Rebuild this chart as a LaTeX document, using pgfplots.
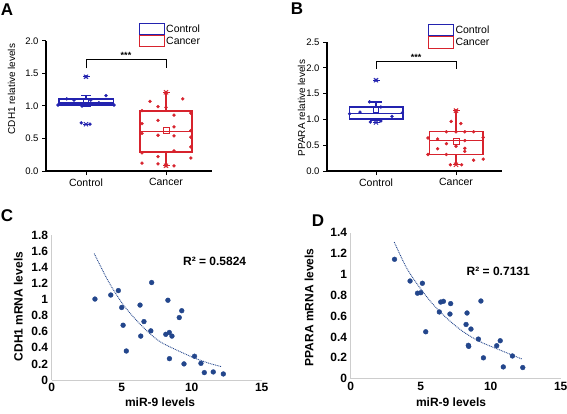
\documentclass[border=0pt]{standalone}
\usepackage{fontspec}
\setmainfont{Liberation Sans}
\usepackage{pgfplots}
\pgfplotsset{compat=1.18}
\usepgfplotslibrary{statistics}
\definecolor{cblue}{RGB}{35,35,175}
\definecolor{cred}{RGB}{215,35,45}
\definecolor{navy}{RGB}{35,70,140}
\definecolor{axgray}{RGB}{205,205,205}
\newcommand{\fTick}{\fontsize{9.5}{11}\selectfont}
\newcommand{\fCat}{\fontsize{10.5}{12}\selectfont}
\newcommand{\fBold}{\fontsize{12}{14}\selectfont\bfseries}
\pgfplotsset{
  boxaxis/.style={
    scale only axis, clip=false,
    axis lines=left, axis line style={-, black, line width=1.1pt},
    tick align=outside, major tick length=4pt,
    tick style={black, line width=1pt},
    /pgf/number format/assume math mode=true,
    xtick={0,1}, xticklabels={Control,Cancer},
    x tick label style={font=\fCat},
    y tick label style={font=\fTick, /pgf/number format/.cd, fixed, fixed zerofill, precision=1},
    ylabel style={font=\fontsize{10}{12}\selectfont},
    legend image code/.code={\draw[#1, line width=1pt] (0pt,-5.6pt) rectangle (25pt,5.6pt);},
    legend style={draw=none, fill=none, inner sep=0pt, row sep=0pt,
      nodes={inner sep=1.2pt}, font=\fCat, cells={anchor=west}},
    boxplot/every box/.style={draw, line width=1.4pt},
    boxplot/every whisker/.style={line width=1.4pt},
    boxplot/every median/.style={line width=1.4pt},
  },
  scataxis/.style={
    scale only axis, clip=false,
    axis lines=left, axis line style={-, draw=axgray, line width=0.8pt},
    major tick length=0pt, tick style={draw=none},
    /pgf/number format/assume math mode=true,
    xmin=0, xmax=15, xtick={0,5,10,15},
    tick label style={font=\fBold},
    y tick label style={/pgf/number format/.cd, fixed, precision=1},
    label style={font=\fBold},
  },
}
\begin{document}
\begin{tikzpicture}
\path[use as bounding box] (0pt,0pt) rectangle (567pt,413pt);
% ---------------- Panel A ----------------
\begin{axis}[boxaxis, at={(46pt,242pt)}, anchor=south west,
  width=166pt, height=130pt,
  xmin=-0.5, xmax=1.575, ymin=0, ymax=2,
  ytick={0,0.5,1,1.5,2},
  ylabel={CDH1 relative levels},
  ylabel style={at={(axis description cs:-0.207,0.63)}, anchor=center},
  legend style={at={(axis description cs:0.559,1.14)}, anchor=north west},
]
\addlegendimage{cblue}\addlegendentry{Control}
\addlegendimage{cred}\addlegendentry{Cancer}
\addplot[cblue, line width=1.4pt, boxplot prepared={draw direction=y, lower whisker=1.0, lower quartile=1.015, median=1.045,
  upper quartile=1.105, upper whisker=1.16, draw position=0, box extend=0.68, whisker extend=0.12}] coordinates {};
\addplot[cred, line width=1.4pt, boxplot prepared={draw direction=y, lower whisker=0.08, lower quartile=0.29, median=0.61,
  upper quartile=0.92, upper whisker=1.21, draw position=1, box extend=0.65, whisker extend=0}] coordinates {};
\addplot[only marks, mark=*, mark size=1.5pt, cblue] coordinates {
(-0.35,1.015)(-0.24,1.11)(-0.15,1.09)(-0.05,1.0)(0.06,1.09)(0.16,1.05)(0.25,1.16)(0.35,1.015)
(-0.06,0.74)(0.05,0.72)(0,1.45)};
\addplot[only marks, mark=*, mark size=1.5pt, cred] coordinates {
(0.70,0.93)(0.70,0.73)(0.70,0.58)(0.70,0.28)(0.70,0.12)
(0.80,1.07)
(0.90,0.99)(0.90,0.78)(0.90,0.55)(0.90,0.22)(0.90,0.11)
(1,0.98)(1,1.21)(1,0.08)
(1.10,0.86)(1.10,0.68)(1.10,0.54)(1.10,0.31)(1.10,0.08)
(1.21,1.11)
(1.31,0.89)(1.31,0.62)(1.31,0.52)(1.31,0.37)(1.31,0.20)};
\addplot[only marks, mark=x, mark size=3pt, mark options={line width=0.9pt, draw=cblue}, cblue] coordinates {(0,1.45)(0,0.72)};
\addplot[only marks, mark=-, mark size=3.5pt, mark options={line width=0.9pt, draw=cblue}, cblue] coordinates {(0,1.45)(0,0.72)};
\addplot[only marks, mark=x, mark size=3pt, mark options={line width=0.9pt, draw=cred}, cred] coordinates {(1,1.21)(1,0.08)};
\addplot[only marks, mark=-, mark size=3.5pt, mark options={line width=0.9pt, draw=cred}, cred] coordinates {(1,1.21)(1,0.08)};
\addplot[only marks, mark=square, mark size=2.4pt, mark options={line width=0.7pt, draw=cblue, fill=white}, cblue] coordinates {(0,1.08)};
\addplot[only marks, mark=square, mark size=3pt, mark options={line width=0.7pt, draw=cred, fill=white}, cred] coordinates {(1,0.62)};
\addplot[black, line width=0.9pt] coordinates {(0,1.58)(0,1.71)(1,1.71)(1,1.58)};
\node[font=\fontsize{9}{10}\selectfont\bfseries, anchor=base] at (axis cs:0.5,1.725) {***};
\end{axis}
% ---------------- Panel B ----------------
\begin{axis}[boxaxis, at={(327pt,242pt)}, anchor=south west,
  width=175pt, height=129pt,
  xmin=-0.6125, xmax=1.575, ymin=0, ymax=2.5,
  ytick={0,0.5,1,1.5,2,2.5},
  ylabel={PPARA relative levels},
  ylabel style={at={(axis description cs:-0.145,0.488)}, anchor=center},
  legend style={at={(axis description cs:0.578,1.14)}, anchor=north west},
]
\addlegendimage{cblue}\addlegendentry{Control}
\addlegendimage{cred}\addlegendentry{Cancer}
\addplot[cblue, line width=1.4pt, boxplot prepared={draw direction=y, lower whisker=0.98, lower quartile=1.01, median=1.12,
  upper quartile=1.24, upper whisker=1.34, draw position=0, box extend=0.67, whisker extend=0.14}] coordinates {};
\addplot[cred, line width=1.4pt, boxplot prepared={draw direction=y, lower whisker=0.12, lower quartile=0.32, median=0.59,
  upper quartile=0.76, upper whisker=1.17, draw position=1, box extend=0.67, whisker extend=0}] coordinates {};
\addplot[only marks, mark=*, mark size=1.5pt, cblue] coordinates {
(-0.33,1.11)(-0.2,1.14)(-0.08,1.34)(-0.07,0.95)(0.06,1.24)(0.06,0.97)(0.2,1.06)(0.33,1.13)(0,1.76)};
\addplot[only marks, mark=*, mark size=1.5pt, cred] coordinates {
(0.65,0.64)(0.65,0.32)(0.77,0.62)(0.77,0.43)(0.88,0.76)(0.88,0.53)(0.88,0.32)(0.94,0.96)
(1,0.48)(1,0.76)(1.06,0.92)(1.11,0.76)(1.11,0.59)(1.11,0.44)(1.11,0.38)(1.22,0.76)(1.22,0.21)
(1.34,0.65)(1.34,0.23)(0.93,0.12)(1.07,0.12)(1,1.17)};
\addplot[only marks, mark=x, mark size=3pt, mark options={line width=0.9pt, draw=cblue}, cblue] coordinates {(0,1.76)(0,0.94)};
\addplot[only marks, mark=-, mark size=3.5pt, mark options={line width=0.9pt, draw=cblue}, cblue] coordinates {(0,1.76)(0,0.94)};
\addplot[only marks, mark=x, mark size=3pt, mark options={line width=0.9pt, draw=cred}, cred] coordinates {(1,1.17)(1,0.12)};
\addplot[only marks, mark=-, mark size=3.5pt, mark options={line width=0.9pt, draw=cred}, cred] coordinates {(1,1.17)(1,0.12)};
\addplot[only marks, mark=square, mark size=2.6pt, mark options={line width=0.7pt, draw=cblue, fill=white}, cblue] coordinates {(0,1.19)};
\addplot[only marks, mark=square, mark size=3pt, mark options={line width=0.7pt, draw=cred, fill=white}, cred] coordinates {(1,0.57)};
\addplot[black, line width=0.9pt] coordinates {(0,1.98)(0,2.13)(1,2.13)(1,1.98)};
\node[font=\fontsize{9}{10}\selectfont\bfseries, anchor=base] at (axis cs:0.5,2.14) {***};
\end{axis}
% ---------------- Panel C ----------------
\begin{axis}[scataxis, at={(51.7pt,33pt)}, anchor=south west,
  width=210pt, height=145pt,
  ymin=0, ymax=1.8, ytick={0,0.2,0.4,0.6,0.8,1,1.2,1.4,1.6,1.8},
  xlabel={miR-9 levels}, ylabel={CDH1 mRNA levels},
  xlabel style={at={(axis description cs:0.516,-0.15)}, anchor=center},
  ylabel style={at={(axis description cs:-0.159,0.506)}, anchor=center},
]
\addplot[navy, line width=0.9pt, dash pattern=on 0.9pt off 0.9pt, smooth] coordinates {
(3.04,1.57)(4.0,1.24)(5.0,0.96)(5.9,0.77)(6.8,0.61)(7.7,0.48)(8.7,0.39)(10.1,0.28)(11.2,0.21)(12.14,0.165)};
\addplot[only marks, mark=*, mark size=2.4pt, navy] coordinates {
(3.09,1.005)(4.22,1.055)(4.76,1.11)(5.0,0.90)(5.1,0.68)(5.33,0.36)(6.31,0.93)(6.36,0.545)
(6.59,0.725)(7.08,0.61)(7.14,1.21)(8.15,0.567)(8.3,0.99)(8.4,0.59)(8.41,0.265)(8.59,0.545)
(9.11,0.775)(9.29,0.86)(9.45,0.2)(10.2,0.295)(10.66,0.207)(10.9,0.092)(11.54,0.1)(12.26,0.075)};
\node[font=\fBold] at (axis cs:11.64,1.468) {R² = 0.5824};
\end{axis}
% ---------------- Panel D ----------------
\begin{axis}[scataxis, at={(350.7pt,34.3pt)}, anchor=south west,
  width=210pt, height=146pt,
  ymin=0, ymax=1.4, ytick={0,0.2,0.4,0.6,0.8,1,1.2,1.4},
  xlabel={miR-9 levels}, ylabel={PPARA mRNA levels},
  xlabel style={at={(axis description cs:0.478,-0.158)}, anchor=center},
  ylabel style={at={(axis description cs:-0.198,0.488)}, anchor=center},
]
\addplot[navy, line width=0.9pt, dash pattern=on 0.9pt off 0.9pt, smooth] coordinates {
(3.11,1.31)(4.0,1.06)(4.95,0.87)(5.9,0.71)(6.86,0.58)(8.04,0.45)(9.24,0.355)(10.66,0.275)(12.21,0.19)};
\addplot[only marks, mark=*, mark size=2.4pt, navy] coordinates {
(3.13,1.145)(4.24,0.937)(4.77,0.82)(5.01,0.825)(5.12,0.915)(5.36,0.45)(6.33,0.64)(6.43,0.735)
(6.62,0.742)(7.14,0.72)(7.09,0.62)(8.24,0.52)(8.31,0.63)(8.4,0.32)(8.43,0.31)(8.59,0.476)
(9.12,0.38)(9.3,0.745)(9.48,0.2)(10.43,0.316)(10.68,0.364)(10.9,0.113)(11.55,0.218)(12.29,0.107)};
\node[font=\fBold] at (axis cs:10.54,1.026) {R² = 0.7131};
\end{axis}
% ---------------- Panel letters ----------------
\node[font=\fontsize{17}{17}\selectfont\bfseries] at (7pt,403pt) {A};
\node[font=\fontsize{17}{17}\selectfont\bfseries] at (297pt,404pt) {B};
\node[font=\fontsize{17}{17}\selectfont\bfseries] at (7pt,197pt) {C};
\node[font=\fontsize{17}{17}\selectfont\bfseries] at (318pt,192pt) {D};
\end{tikzpicture}
\end{document}
